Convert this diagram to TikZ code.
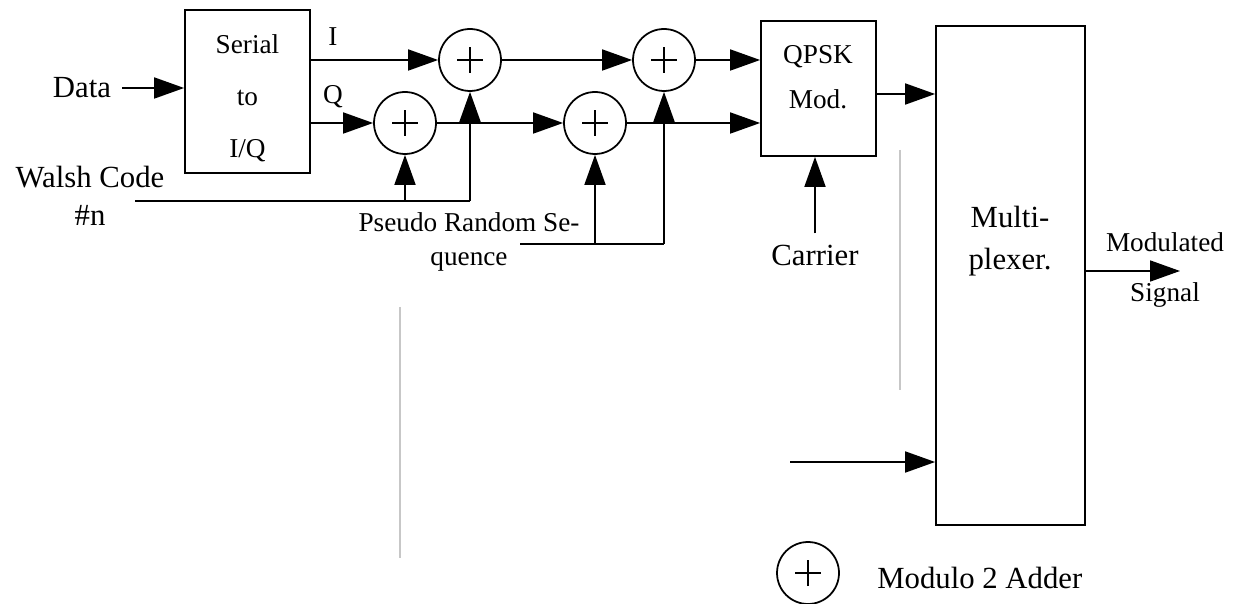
\documentclass[tikz,border=0pt]{standalone}
\usepackage{fontspec}
\setmainfont{Liberation Serif}
\usetikzlibrary{arrows.meta,positioning}

\begin{document}
\begin{tikzpicture}[
  x=0.02cm, y=-0.02cm,
  box/.style={draw, line width=1pt, inner sep=0pt},
  adder/.style={draw, circle, line width=1pt, minimum size=1.24cm, inner sep=0pt,
    path picture={\draw[line width=1pt]
      (path picture bounding box.center) ++(-0.26cm,0) -- ++(0.52cm,0)
      (path picture bounding box.center) ++(0,-0.26cm) -- ++(0,0.52cm);}},
  small/.style={font=\fontsize{15.5}{18}\selectfont, inner sep=0pt},
  big/.style={font=\fontsize{17.5}{21}\selectfont, inner sep=0pt},
  wire/.style={line width=1pt},
  arr/.style={-{Triangle[length=0.6cm,width=0.42cm]}, line width=1pt},
  faint/.style={black!22, line width=0.6pt}
]
\useasboundingbox (0,0) rectangle (1240,604);
\node[box, minimum width=2.5cm, minimum height=3.26cm] (ser) at (247.5,91.5) {};
\node[small, align=center, font=\fontsize{15.5}{29.5}\selectfont] (sertxt) at (247.5,98) {Serial\\to\\I/Q};
\node[box, minimum width=2.3cm, minimum height=2.7cm] (qpsk) at (818.5,88.5) {};
\node[small, align=center, font=\fontsize{15.5}{25.5}\selectfont] (qpsktxt) at (818,77) {QPSK\\Mod.};
\node[box, minimum width=2.98cm, minimum height=9.98cm] (mux) at (1010.5,275.5) {};
\node[big, align=center, font=\fontsize{17.5}{24}\selectfont] (muxtxt) at (1010,241) {Multi-\\plexer.};
\node[adder] (addq) at (405,123) {};
\node[adder] (addi) at (470,60) {};
\node[adder] (addq2) at (595,123) {};
\node[adder] (addi2) at (664,60) {};
\node[big, inner xsep=0.22cm] (data) at (82,88) {Data};
\node[big, align=center, font=\fontsize{17.5}{21.5}\selectfont] (walsh) at (90,196) {Walsh Code\\\#n};
\node[small] (ilbl) at (333,37) {I};
\node[small] (qlbl) at (333,97) {Q};
\node[small, align=center, font=\fontsize{15.5}{19.3}\selectfont] (pnlbl) at (469,242) {Pseudo Random Se-\\quence};
\node[big, inner ysep=0.22cm] (carrier) at (815,255) {Carrier};
\node[small, align=center, font=\fontsize{15.5}{28.4}\selectfont] (modsig) at (1165,270) {Modulated\\Signal};
\node[adder] (legend) at (808,573) {};
\node[big, anchor=west] (legtxt) at (877,578) {Modulo 2 Adder};
\coordinate (wl) at (135,201);
\coordinate (pn) at (520,244);
\coordinate (qo) at (876,94);
\coordinate (out) at (1180,271);
\coordinate (in2) at (790,462);
\draw[arr] (data.east) -- (data.east -| ser.west);
\draw[arr] (addi -| ser.east) -- (addi.west);
\draw[arr] (addq -| ser.east) -- (addq.west);
\draw[arr] (addq.east) -- (addq2.west);
\draw[arr] (addi.east) -- (addi2.west);
\draw[arr] (addi2.east) -- (addi2 -| qpsk.west);
\draw[arr] (addq2.east) -- (addq2 -| qpsk.west);
\draw[wire] (wl) -- (wl -| addi);
\draw[arr] (wl -| addi) -- (addi.south);
\draw[arr] (wl -| addq) -- (addq.south);
\draw[wire] (pn) -- (pn -| addi2);
\draw[arr] (pn -| addi2) -- (addi2.south);
\draw[arr] (pn -| addq2) -- (addq2.south);
\draw[arr] (carrier.north) -- (carrier.north |- qpsk.south);
\draw[arr] (qo) -- (qo -| mux.west);
\draw[arr] (out -| mux.east) -- (out);
\draw[arr] (in2) -- (in2 -| mux.west);
\draw[faint] (400,307) -- (400,558);
\draw[faint] (900,150) -- (900,390);
\end{tikzpicture}
\end{document}
